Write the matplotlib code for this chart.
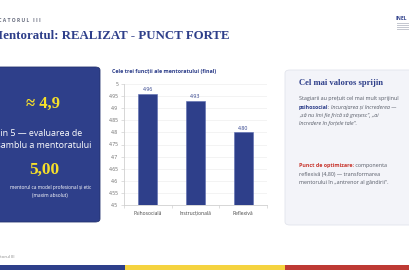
import matplotlib
matplotlib.use("Agg")
import matplotlib.pyplot as plt
from matplotlib.patches import FancyBboxPatch, Rectangle

# data
categories = ["Psihosocială", "Instrucțională", "Reflexivă"]
scores = [4.96, 4.93, 4.80]
yticks = [4.5, 4.55, 4.6, 4.65, 4.7, 4.75, 4.8, 4.85, 4.9, 4.95, 5.0]
ytick_labels = ["4.5", "4.55", "4.6", "4.65", "4.7", "4.75", "4.8", "4.85", "4.9", "4.95", "5"]

BLUE = "#2e3f8a"
YELLOW = "#f7e02a"
RED = "#c8372f"
GRAY = "#555a66"

W, H = 410, 270
plt.rcParams['font.family'] = ['Open Sans', 'DejaVu Sans']
fig = plt.figure(figsize=(W / 100, H / 100), dpi=100)
fig.patch.set_facecolor("white")


def fx(x):
    return x / W


def fy(y):
    return 1 - y / H


def txt(x, y, s, **kw):
    return fig.text(fx(x), fy(y), s, **kw)


renderer = fig.canvas.get_renderer()


def runs(x, y, pieces, size):
    # draw differently styled pieces one after another on one line
    for s, kw in pieces:
        t = txt(x, y, s, fontsize=size, va="baseline", ha="left", **kw)
        bb = t.get_window_extent(renderer)
        x += bb.width


# header
txt(41, 20, "I N D I C A T O R U L   I I I", fontsize=3.6, color="#6a6f80", weight="bold",
    va="center", ha="right")
txt(-9, 36, "Mentoratul: REALIZAT - PUNCT FORTE", fontsize=9.3, color=BLUE,
    weight="bold", family="Liberation Serif", va="center")
txt(396, 19, "INEL", fontsize=3.6, color=BLUE, weight="bold", va="center")
for i in range(4):
    fig.add_artist(Rectangle((fx(397), fy(24 + i * 2)), 12 / W, 0.8 / H,
                             color="#c4c7d0", transform=fig.transFigure, lw=0))

# left box
fig.add_artist(FancyBboxPatch((fx(-12), fy(222)), 112 / W, 155 / H,
                              boxstyle="round,pad=0,rounding_size=0.012",
                              transform=fig.transFigure, fc=BLUE, ec="#24336f", lw=0.6))
txt(43, 104, "≈ 4,9", fontsize=12, color=YELLOW, weight="bold",
    family="Liberation Serif", ha="center", va="center")
txt(39, 133, "din 5 — evaluarea de", fontsize=6.4, color="white", ha="center", va="center")
txt(39, 146, "ansamblu a mentoratului", fontsize=6.4, color="white", ha="center", va="center")
txt(44, 170, "5,00", fontsize=12.5, color=YELLOW, weight="bold",
    family="Liberation Serif", ha="center", va="center")
txt(51, 187, "mentorul ca model profesional și etic", fontsize=3.4, color="white",
    ha="center", va="center")
txt(50, 195, "(maxim absolut)", fontsize=3.4, color="white", ha="center", va="center")

# chart
ax = fig.add_axes([fx(124), fy(205), 143 / W, 121 / H])
x = range(len(categories))
bars = ax.bar(x, scores, width=0.4, color=BLUE, edgecolor="#5a6ab0", linewidth=0.4, zorder=3)
for b, v in zip(bars, scores):
    ax.text(b.get_x() + b.get_width() / 2, v + 0.006, f"{v:.2f}", ha="center", va="bottom",
            fontsize=3.8, color=BLUE)
ax.set_xlim(-0.5, 2.5)
ax.set_ylim(4.5, 5.0)
ax.set_yticks(yticks)
ax.set_yticklabels(ytick_labels)
ax.set_xticks(list(x))
ax.set_xticklabels(categories)
ax.set_xticks([-0.5, 0.5, 1.5, 2.5], minor=True)
ax.tick_params(axis="x", which="major", length=0, labelsize=3.6, labelcolor="#444", pad=4)
ax.tick_params(axis="x", which="minor", length=2.5, color="#d0d0d0", width=0.5)
ax.tick_params(axis="y", labelsize=3.6, labelcolor="#666", length=2.5, color="#d0d0d0",
               width=0.5, pad=1.5)
ax.grid(axis="y", color="#eeeeee", lw=0.5, zorder=0)
for s in ["top", "right"]:
    ax.spines[s].set_visible(False)
for s in ["left", "bottom"]:
    ax.spines[s].set_color("#d0d0d0")
    ax.spines[s].set_linewidth(0.6)
txt(112, 72, "Cele trei funcții ale mentoratului (final)", fontsize=3.9, color=BLUE,
    weight="bold", va="center")

# right box
fig.add_artist(FancyBboxPatch((fx(285), fy(225)), 135 / W, 155 / H,
                              boxstyle="round,pad=0,rounding_size=0.012",
                              transform=fig.transFigure, fc="#f3f4f9", ec="#e2e4ec", lw=0.6))
txt(299, 85, "Cel mai valoros sprijin", fontsize=6.2, color=BLUE, weight="bold",
    family="Liberation Serif", va="baseline")
fs = 3.9
runs(299, 100, [("Stagiarii au prețuit cel mai mult sprijinul", dict(color=GRAY))], fs)
runs(299, 109, [("psihosocial", dict(color=BLUE, weight="bold")),
                (": ", dict(color=GRAY)),
                ("încurajarea și încrederea —", dict(color=GRAY, style="italic"))], fs)
runs(299, 117, [("„să nu îmi fie frică să greșesc\", „ai", dict(color=GRAY, style="italic"))], fs)
runs(299, 125, [("încredere în forțele tale\".", dict(color=GRAY, style="italic"))], fs)
runs(299, 167, [("Punct de optimizare:", dict(color=RED, weight="bold")),
                (" componenta", dict(color=GRAY))], fs)
runs(299, 176, [("reflexivă (4,80) — transformarea", dict(color=GRAY))], fs)
runs(299, 184, [("mentorului în „antrenor al gândirii\".", dict(color=GRAY))], fs)

# footer
txt(14, 257, "Indicatorul III", fontsize=3.2, color="#888", va="center", ha="right")
fig.add_artist(Rectangle((0, 0), fx(125), 5 / H, color=BLUE, transform=fig.transFigure, lw=0))
fig.add_artist(Rectangle((fx(125), 0), 160 / W, 5 / H, color="#f5d33f", transform=fig.transFigure, lw=0))
fig.add_artist(Rectangle((fx(285), 0), 125 / W, 5 / H, color="#be3a34", transform=fig.transFigure, lw=0))

fig.savefig("out.png", dpi=100)
